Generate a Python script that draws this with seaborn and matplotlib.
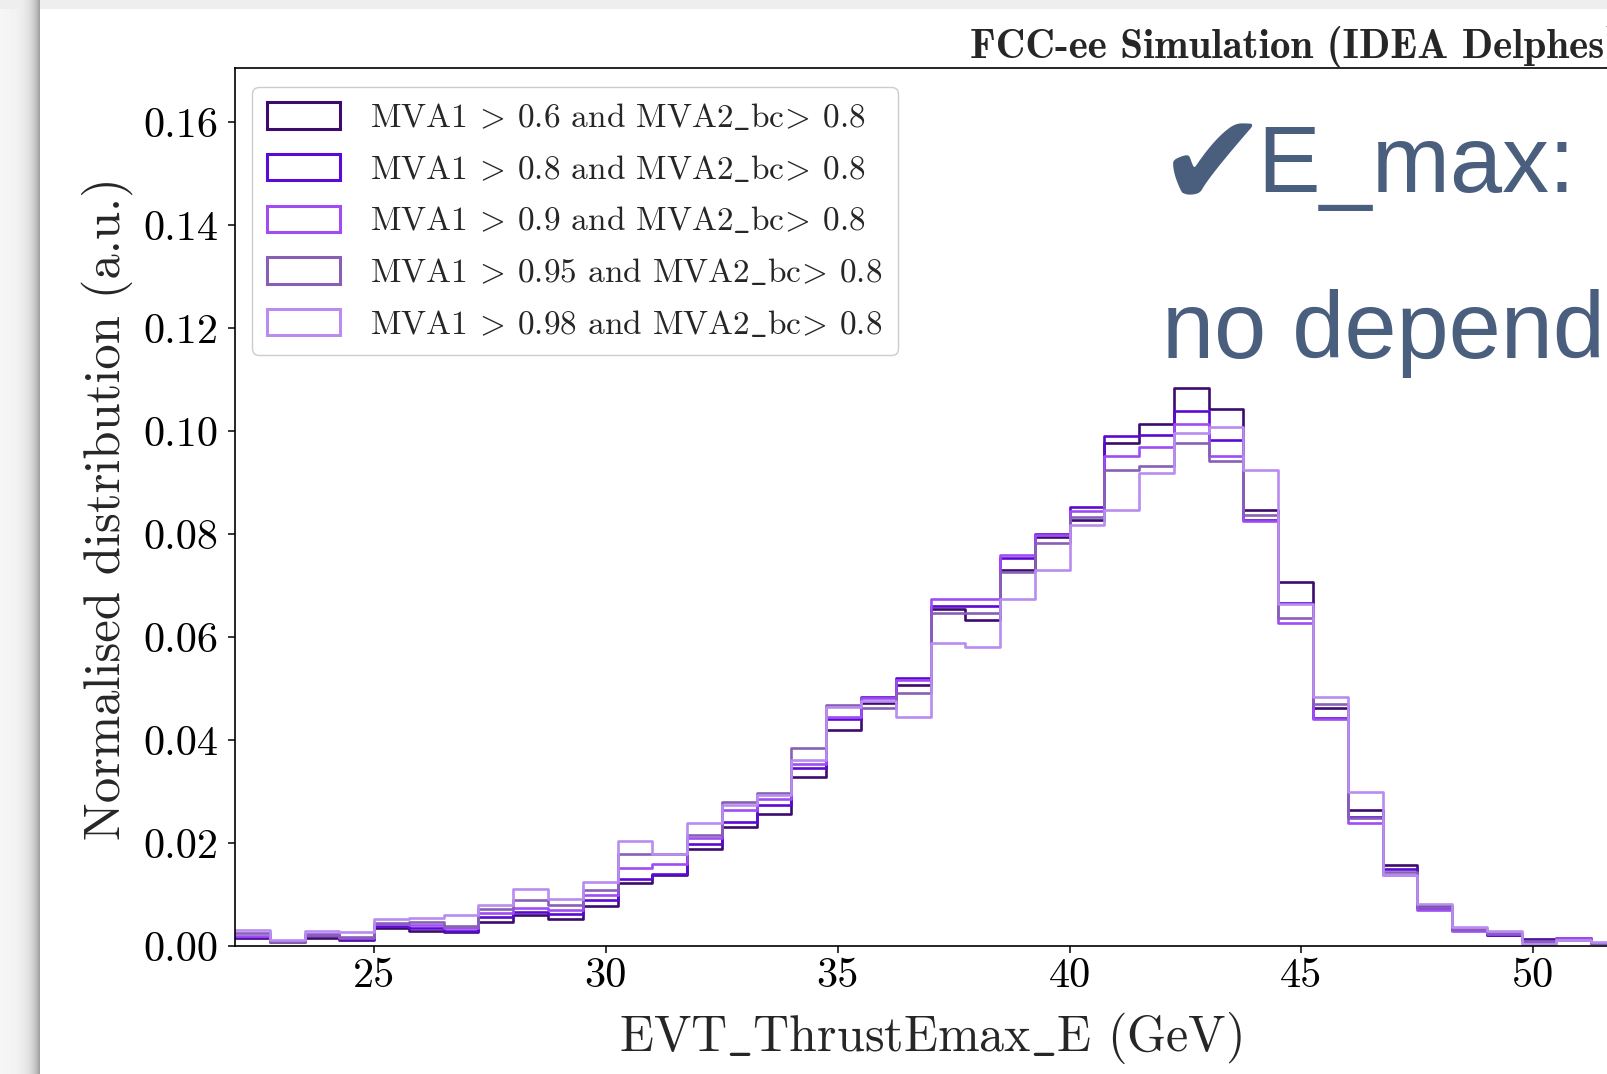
import numpy as np
import pandas as pd
import matplotlib
matplotlib.use("Agg")
import matplotlib.pyplot as plt
from matplotlib.patches import Patch
import seaborn as sns

# ---------------- data ----------------
bin_start = 22.0
bin_width = 0.75
n_bins = 40

labels = [
    r"MVA1 $\!>\!$ 0.6 and MVA2$\_$bc$\!>\!$ 0.8",
    r"MVA1 $\!>\!$ 0.8 and MVA2$\_$bc$\!>\!$ 0.8",
    r"MVA1 $\!>\!$ 0.9 and MVA2$\_$bc$\!>\!$ 0.8",
    r"MVA1 $\!>\!$ 0.95 and MVA2$\_$bc$\!>\!$ 0.8",
    r"MVA1 $\!>\!$ 0.98 and MVA2$\_$bc$\!>\!$ 0.8",
]
colors = ["#3d0b6e", "#5a0ad2", "#a04cf5", "#8760b6", "#b98cf0"]

mva06 = [0.0015, 0.0008, 0.0016, 0.0012, 0.0034, 0.0029, 0.0027, 0.0047, 0.0060, 0.0053,
         0.0077, 0.0122, 0.0138, 0.0189, 0.0231, 0.0256, 0.0328, 0.0420, 0.0472, 0.0507,
         0.0655, 0.0633, 0.0731, 0.0794, 0.0828, 0.0977, 0.1014, 0.1084, 0.1044, 0.0846,
         0.0708, 0.0462, 0.0264, 0.0157, 0.0077, 0.0031, 0.0021, 0.0013, 0.0013, 0.0005]
mva08 = [0.0017, 0.0009, 0.0021, 0.0013, 0.0038, 0.0034, 0.0029, 0.0056, 0.0067, 0.0062,
         0.0089, 0.0131, 0.0140, 0.0199, 0.0241, 0.0273, 0.0345, 0.0440, 0.0484, 0.0520,
         0.0660, 0.0660, 0.0753, 0.0801, 0.0852, 0.0990, 0.0992, 0.1039, 0.0982, 0.0828,
         0.0667, 0.0442, 0.0251, 0.0150, 0.0073, 0.0032, 0.0022, 0.0012, 0.0016, 0.0005]
mva09 = [0.0020, 0.0010, 0.0024, 0.0015, 0.0042, 0.0040, 0.0034, 0.0065, 0.0074, 0.0069,
         0.0099, 0.0152, 0.0160, 0.0209, 0.0264, 0.0286, 0.0354, 0.0445, 0.0482, 0.0517,
         0.0674, 0.0674, 0.0760, 0.0798, 0.0845, 0.0952, 0.0969, 0.1014, 0.0952, 0.0826,
         0.0628, 0.0440, 0.0238, 0.0137, 0.0070, 0.0030, 0.0024, 0.0008, 0.0015, 0.0005]
mva095 = [0.0025, 0.0008, 0.0022, 0.0018, 0.0045, 0.0047, 0.0038, 0.0071, 0.0090, 0.0080,
          0.0108, 0.0179, 0.0178, 0.0215, 0.0280, 0.0298, 0.0384, 0.0469, 0.0463, 0.0491,
          0.0646, 0.0647, 0.0727, 0.0782, 0.0834, 0.0925, 0.0932, 0.0977, 0.0943, 0.0838,
          0.0637, 0.0470, 0.0248, 0.0144, 0.0076, 0.0033, 0.0025, 0.0010, 0.0012, 0.0006]
mva098 = [0.0032, 0.0012, 0.0029, 0.0027, 0.0053, 0.0055, 0.0060, 0.0080, 0.0110, 0.0091,
          0.0124, 0.0204, 0.0179, 0.0238, 0.0273, 0.0293, 0.0361, 0.0465, 0.0475, 0.0445,
          0.0588, 0.0581, 0.0675, 0.0731, 0.0818, 0.0847, 0.0919, 0.0996, 0.1009, 0.0924,
          0.0665, 0.0483, 0.0299, 0.0137, 0.0081, 0.0036, 0.0029, 0.0004, 0.0011, 0.0008]
series = [mva06, mva08, mva09, mva095, mva098]

xtick_values = [25, 30, 35, 40, 45, 50]
xtick_labels = ["25", "30", "35", "40", "45", "50"]
ytick_values = [0.00, 0.02, 0.04, 0.06, 0.08, 0.10, 0.12, 0.14, 0.16]
ytick_labels = ["0.00", "0.02", "0.04", "0.06", "0.08", "0.10", "0.12", "0.14", "0.16"]

x_label = r"EVT$\_$ThrustEmax$\_$E (GeV)"
y_label = "Normalised distribution (a.u.)"
title_text = "FCC-ee Simulation (IDEA Delphes)"
note_line1 = "E_max:"
note_line2 = "no depend"
check_mark = "\u2714"

# ---------------- style ----------------
sns.set_theme(style="ticks")
plt.rcParams.update({
    "font.family": ["cmr10", "DejaVu Serif"],
    "mathtext.fontset": "cm",
    "axes.formatter.use_mathtext": True,
    "axes.unicode_minus": False,
    "axes.edgecolor": "black",
    "xtick.color": "black",
    "ytick.color": "black",
})

W, H = 1608, 1074
fig = plt.figure(figsize=(W / 100, H / 100), dpi=100, facecolor="white")

# slide background with left shadow and top band
bg = fig.add_axes([0, 0, 1, 1], zorder=0)
img = np.ones((H, W))
xs = np.arange(W, dtype=float)
shadow = 0.965 - 0.36 * np.exp(-(39.5 - xs) / 8.0)
left = xs < 40
img[:, left] = shadow[left][None, :]
img[:9, :] = np.minimum(img[:9, :], 0.93)
bg.imshow(img, cmap="gray", vmin=0, vmax=1, extent=[0, W, H, 0], aspect="auto",
          interpolation="bilinear")
bg.set_axis_off()

# main axes
ax_left, ax_right, ax_top, ax_bottom = 235, 1626, 68.3, 946
ax = fig.add_axes([ax_left / W, 1 - ax_bottom / H, (ax_right - ax_left) / W,
                   (ax_bottom - ax_top) / H], zorder=1)
ax.set_facecolor("white")

edges = [float(e) for e in bin_start + bin_width * np.arange(n_bins + 1)]
centers = [e + bin_width / 2 for e in edges[:-1]]

for vals, col in zip(series, colors):
    df = pd.DataFrame({"x": centers, "w": vals})
    sns.histplot(data=df, x="x", weights="w", bins=edges, element="step", fill=False,
                 color=col, linewidth=1.9, ax=ax)

ax.set_xlim(22, 52)
ax.set_ylim(0, 0.1705)
ax.set_xticks(xtick_values)
ax.set_xticklabels(xtick_labels)
ax.set_yticks(ytick_values)
ax.set_yticklabels(ytick_labels)
ax.tick_params(axis="both", direction="out", length=5, width=1.1, labelsize=30.5)
ax.tick_params(axis="y", pad=7)
ax.tick_params(axis="x", pad=3)
for sp in ax.spines.values():
    sp.set_linewidth(1.2)
    sp.set_color("black")

ax.set_xlabel(x_label, fontsize=36, va="baseline")
ax.xaxis.set_label_coords((ax_left + ax_right) / 2 / W, 1 - 1051 / H, transform=fig.transFigure)
ax.set_ylabel(y_label, fontsize=36.5, va="center")
ax.yaxis.set_label_coords(107 / W, 1 - 509 / H, transform=fig.transFigure)

handles = [Patch(facecolor="none", edgecolor=c, linewidth=2.2) for c in colors]
ax.legend(handles, labels, loc="upper left", bbox_to_anchor=(252 / W, 1 - 87 / H),
          bbox_transform=fig.transFigure, borderaxespad=0, fontsize=24,
          handlelength=2.2, handleheight=0.85, labelspacing=0.62, handletextpad=0.9,
          borderpad=0.45, frameon=True, fancybox=True, edgecolor="0.8", framealpha=1)

fig.text(970 / W, 1 - 58.5 / H, title_text, family="cmb10", fontsize=29.5,
         ha="left", va="baseline")

slate = "#4a5e7e"
fig.text(1158 / W, 1 - 206 / H, check_mark, family=["DejaVu Sans"], fontsize=94,
         color=slate, ha="left", va="baseline")
fig.text(1257 / W, 1 - 192 / H, note_line1, family=["Liberation Sans", "DejaVu Sans"],
         fontsize=67.5, color=slate, ha="left", va="baseline")
fig.text(1162 / W, 1 - 358 / H, note_line2, family=["Liberation Sans", "DejaVu Sans"],
         fontsize=67.5, color=slate, ha="left", va="baseline")

fig.savefig("out.png", dpi=100)
